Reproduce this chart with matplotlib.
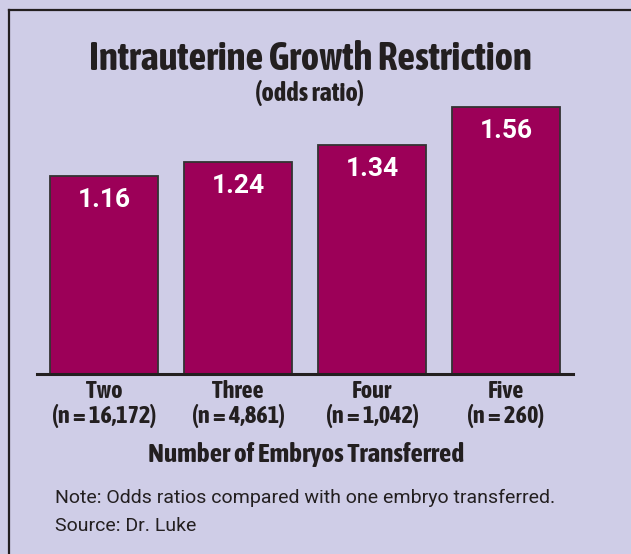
import matplotlib
matplotlib.use("Agg")
import matplotlib.pyplot as plt
from matplotlib.lines import Line2D
from matplotlib import font_manager

categories = ["Two", "Three", "Four", "Five"]
counts = ["(n = 16,172)", "(n = 4,861)", "(n = 1,042)", "(n = 260)"]
odds = [1.16, 1.24, 1.34, 1.56]

# pick a condensed bold font if one is installed
cond_family, cond_stretch = None, "normal"
for f in font_manager.fontManager.ttflist:
    nm = f.name
    if ("Narrow" in nm or "Condensed" in nm) and f.weight in ("bold", 700):
        cond_family, cond_stretch = nm, str(f.stretch)
        break
if cond_family is None:
    for f in font_manager.fontManager.ttflist:
        if str(f.stretch) in ("condensed", "semi-condensed", "extra-condensed") and f.weight in ("bold", 700):
            cond_family, cond_stretch = f.name, str(f.stretch)
            break
if cond_family is None:
    cond_family, cond_stretch = "Roboto", "normal"
reg = "Roboto"

W, H = 631, 554
bg = "#cfcde7"
bar_c = "#9c0058"
txt = "#231f20"

fig = plt.figure(figsize=(W / 100, H / 100), dpi=100)
fig.patch.set_facecolor(bg)

fig.add_artist(Line2D([8.5 / W, 8.5 / W], [0, 1 - 10 / H], color="#231f20", lw=1.6, transform=fig.transFigure))
fig.add_artist(Line2D([8.5 / W, 1], [1 - 10 / H, 1 - 10 / H], color="#231f20", lw=1.6, transform=fig.transFigure))

base_y = 374
ppu = 171.0
ymax = 1.75
ax = fig.add_axes([37 / W, (H - base_y) / H, 536 / W, ppu * ymax / H])
ax.set_facecolor("none")
x = list(range(len(categories)))
ax.bar(x, odds, width=108 / 134, color=bar_c, edgecolor="#333333", linewidth=1.3, zorder=2)
ax.set_xlim(-0.5, 3.5)
ax.set_ylim(0, ymax)
for s in ["top", "right", "left"]:
    ax.spines[s].set_visible(False)
ax.spines["bottom"].set_linewidth(2.2)
ax.spines["bottom"].set_color("#231f20")
ax.set_yticks([])
ax.set_xticks([])

for xi, v in zip(x, odds):
    ax.annotate(f"{v:.2f}", (xi, v), xytext=(0, -31), textcoords="offset pixels",
                ha="center", va="baseline", color="white", fontsize=19, fontweight="bold",
                family=reg, zorder=3)

for xi, c, n in zip(x, categories, counts):
    ax.annotate(c, (xi, 0), xytext=(0, -24), textcoords="offset pixels", ha="center", va="baseline",
                fontsize=17.5, fontweight="bold", color=txt, family=cond_family, fontstretch=cond_stretch)
    ax.annotate(n, (xi, 0), xytext=(0, -49), textcoords="offset pixels", ha="center", va="baseline",
                fontsize=17.5, fontweight="bold", color=txt, family=cond_family, fontstretch=cond_stretch)

def fy(py):
    return 1 - py / H

fig.text(310.5 / W, fy(70), "Intrauterine Growth Restriction", ha="center", va="baseline",
         fontsize=28, fontweight="bold", color=txt, family=cond_family, fontstretch=cond_stretch)
fig.text(309.5 / W, fy(101), "(odds ratio)", ha="center", va="baseline",
         fontsize=19, fontweight="bold", color=txt, family=cond_family, fontstretch=cond_stretch)
fig.text(306.5 / W, fy(462), "Number of Embryos Transferred", ha="center", va="baseline",
         fontsize=19.5, fontweight="bold", color=txt, family=cond_family, fontstretch=cond_stretch)
fig.text(55 / W, fy(503), "Note: Odds ratios compared with one embryo transferred.", ha="left", va="baseline",
         fontsize=14, color=txt, family=reg)
fig.text(55 / W, fy(531), "Source: Dr. Luke", ha="left", va="baseline",
         fontsize=14, color=txt, family=reg)

fig.savefig("out.png", dpi=100, facecolor=bg)
